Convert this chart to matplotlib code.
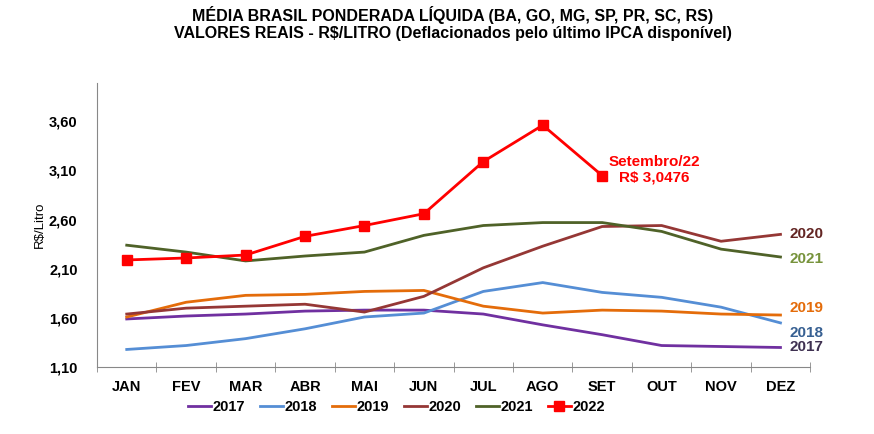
import numpy as np
import matplotlib
matplotlib.use("Agg")
import matplotlib.pyplot as plt

plt.rcParams['font.family'] = ['Liberation Sans', 'DejaVu Sans']

meses = ["JAN", "FEV", "MAR", "ABR", "MAI", "JUN", "JUL", "AGO", "SET", "OUT", "NOV", "DEZ"]

v2017 = [1.59, 1.62, 1.64, 1.67, 1.68, 1.68, 1.64, 1.53, 1.43, 1.32, 1.31, 1.30]
v2018 = [1.28, 1.32, 1.39, 1.49, 1.61, 1.65, 1.87, 1.96, 1.86, 1.81, 1.71, 1.55]
v2019 = [1.61, 1.76, 1.83, 1.84, 1.87, 1.88, 1.72, 1.65, 1.68, 1.67, 1.64, 1.63]
v2020 = [1.64, 1.70, 1.72, 1.74, 1.66, 1.82, 2.11, 2.33, 2.53, 2.54, 2.38, 2.45]
v2021 = [2.34, 2.27, 2.18, 2.23, 2.27, 2.44, 2.54, 2.57, 2.57, 2.48, 2.30, 2.22]
v2022 = [2.19, 2.21, 2.24, 2.43, 2.54, 2.66, 3.19, 3.56, 3.0476]

anos = ["2017", "2018", "2019", "2020", "2021"]
series = [v2017, v2018, v2019, v2020, v2021]
cores = ["#7030A0", "#558ED5", "#E46C0A", "#953735", "#4F6228"]
cores_rotulo = ["#3F3151", "#376092", "#E46C0A", "#632523", "#77933C"]

fig = plt.figure(figsize=(8.74, 4.34), dpi=100)
ax = fig.add_axes([0.111, 0.154, 0.816, 0.655])

x = np.arange(len(meses))
for ano, s, c in zip(anos, series, cores):
    ax.plot(x, s, color=c, lw=2, label=ano)
ax.plot(x[:len(v2022)], v2022, color="#FF0000", lw=2, marker="s", ms=7.5, label="2022")

# rotulos no fim das linhas
for ano, s, c in zip(anos, series, cores_rotulo):
    dy = {"2018": -0.1, "2019": 0.07, "2021": -0.02, "2017": 0.0, "2020": 0.0}[ano]
    ax.text(11.15, s[-1] + dy, ano, color=c, fontsize=11, fontweight="bold", va="center")

ax.text(8.88, 3.107, "Setembro/22\nR$ 3,0476", color="#FF0000", fontsize=11,
        fontweight="bold", ha="center", va="center", linespacing=1.05)

ax.set_xlim(-0.5, 11.5)
ax.set_ylim(1.10, 3.99)
ax.set_yticks(np.arange(1.10, 3.61, 0.5))
ax.set_yticklabels([f"{v:.2f}".replace(".", ",") for v in np.arange(1.10, 3.61, 0.5)],
                   fontweight="bold", fontsize=10.5)
ax.set_xticks(x)
ax.set_xticklabels(meses, fontweight="bold", fontsize=10.5)
ax.set_xticks(np.arange(-0.5, 12, 1), minor=True)
ax.tick_params(axis="x", which="major", length=0, pad=9)
ax.tick_params(axis="x", which="minor", length=7, direction="inout", color="#888888")
ax.tick_params(axis="y", length=0, pad=14)
for sp in ["top", "right"]:
    ax.spines[sp].set_visible(False)
ax.spines["left"].set_color("#888888")
ax.spines["bottom"].set_color("#888888")

ax.set_ylabel("R$/Litro", fontsize=9.5)
ax.yaxis.set_label_coords(-0.072, 0.5)

leg = ax.legend(loc="upper center", bbox_to_anchor=(0.42, -0.07), ncol=6, frameon=False,
                handlelength=1.6, handletextpad=0.1, columnspacing=1.0,
                prop={"weight": "bold", "size": 10.5})

fig.text(0.518, 0.966, "MÉDIA BRASIL PONDERADA LÍQUIDA (BA, GO, MG, SP, PR, SC, RS)",
         ha="center", va="center", fontsize=11.5, fontweight="bold")
fig.text(0.518, 0.922, "VALORES REAIS - R$/LITRO (Deflacionados pelo último IPCA disponível)",
         ha="center", va="center", fontsize=11.5, fontweight="bold")

fig.savefig("out.png", dpi=100)
